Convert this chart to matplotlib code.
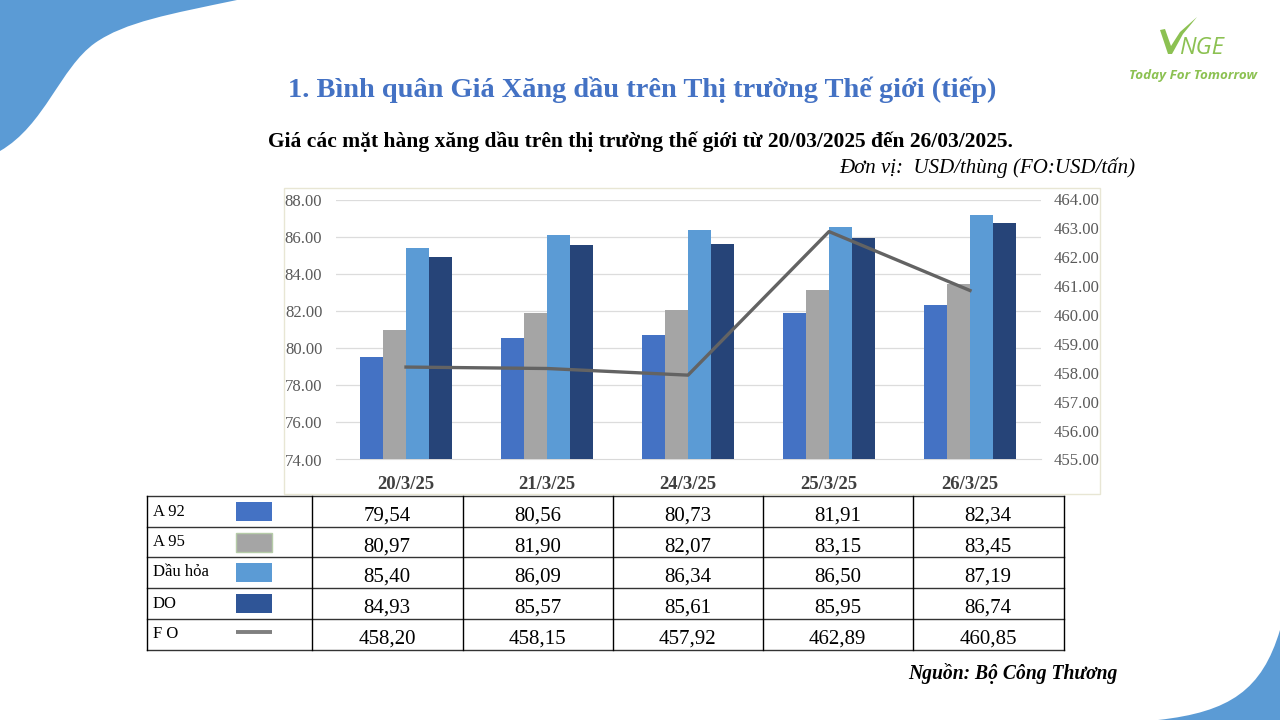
"""Weekly world fuel prices slide: bars, FO line and value table."""

import matplotlib

matplotlib.use("Agg")
import matplotlib.pyplot as plt
import numpy as np
from matplotlib.patches import PathPatch, Rectangle
from matplotlib.path import Path

dates = ["20/3/25", "21/3/25", "24/3/25", "25/3/25", "26/3/25"]
a92 = [79.54, 80.56, 80.73, 81.91, 82.34]
a95 = [80.97, 81.90, 82.07, 83.15, 83.45]
kerosene = [85.40, 86.09, 86.34, 86.50, 87.19]
do = [84.93, 85.57, 85.61, 85.95, 86.74]
fo = [458.20, 458.15, 457.92, 462.89, 460.85]

left_ticks = [74, 76, 78, 80, 82, 84, 86, 88]
right_ticks = [455, 456, 457, 458, 459, 460, 461, 462, 463, 464]
series_names = ["A 92", "A 95", "Dầu hỏa", "DO", "F O"]

BLUE = "#4472C4"
GREY = "#A5A5A5"
LIGHT = "#5B9BD5"
NAVY = "#264478"
LINE = "#636363"
DECOR = "#5B9BD5"
LOGO = "#8CC152"
W, H = 1280, 720

plt.rcParams["font.family"] = ["Liberation Serif", "DejaVu Serif"]

fig = plt.figure(figsize=(W / 100, H / 100), dpi=100, facecolor="white")

# full-slide axes in pixel coordinates for decoration and the table
bg = fig.add_axes([0, 0, 1, 1])
bg.set_xlim(0, W)
bg.set_ylim(H, 0)
bg.axis("off")

top_left = [(0, 0), (237, 0),
            (170, 14), (125, 22), (95, 43),
            (60, 68), (45, 125), (0, 151),
            (0, 0)]
top_codes = [Path.MOVETO, Path.LINETO,
             Path.CURVE4, Path.CURVE4, Path.CURVE4,
             Path.CURVE4, Path.CURVE4, Path.CURVE4,
             Path.CLOSEPOLY]
bg.add_patch(PathPatch(Path(top_left, top_codes), fc=DECOR, ec="none"))
bottom_right = [(1280, 720), (1158, 720),
                (1230, 712), (1262, 690), (1280, 630),
                (1280, 720)]
bottom_codes = [Path.MOVETO, Path.LINETO,
                Path.CURVE4, Path.CURVE4, Path.CURVE4,
                Path.CLOSEPOLY]
bg.add_patch(PathPatch(Path(bottom_right, bottom_codes), fc=DECOR, ec="none"))

# logo
bg.add_patch(plt.Polygon([(1160, 30), (1165, 29), (1171, 46), (1180, 32), (1197, 17),
                          (1183, 34), (1172, 54), (1168, 54)], fc=LOGO, ec="none"))
bg.text(1179, 54, "NGE", fontsize=17, style="italic", color=LOGO, family="Open Sans",
        va="baseline", ha="left")
bg.text(1193, 75, "Today For Tomorrow", fontsize=9.6, style="italic", weight="bold",
        color=LOGO, family="Open Sans", ha="center", va="center")

# headings
bg.text(642, 90, "1. Bình quân Giá Xăng dầu trên Thị trường Thế giới (tiếp)", fontsize=20.4,
        weight="bold", color=BLUE, ha="center", va="center")
bg.text(640, 141.5, "Giá các mặt hàng xăng dầu trên thị trường thế giới từ 20/03/2025 đến 26/03/2025.",
        fontsize=15.45, weight="bold", color="black", ha="center", va="center")
bg.text(1135, 168, "Đơn vị:  USD/thùng (FO:USD/tấn)", fontsize=15, style="italic",
        color="black", ha="right", va="center")
bg.text(1118, 674, "Nguồn: Bộ Công Thương", fontsize=14.15, style="italic", weight="bold",
        color="black", ha="right", va="center")

# chart frame
bg.add_patch(Rectangle((284, 188), 816, 306, fc="white", ec="#E8E6D4", lw=1))

# chart
ax = fig.add_axes([335.5 / W, 1 - 459.5 / H, 705 / W, 260 / H])
ax.patch.set_alpha(0)
x = np.arange(len(dates))
width = 0.163
for i, (vals, col) in enumerate(zip([a92, a95, kerosene, do], [BLUE, GREY, LIGHT, NAVY])):
    ax.bar(x + (i - 1.5) * width, vals, width, color=col, zorder=3)
ax.set_xlim(-0.5, len(dates) - 0.5)
ax.set_ylim(left_ticks[0], left_ticks[-1])
ax.set_yticks(left_ticks)
ax.set_yticklabels([f"{t:.2f}" for t in left_ticks])
ax.set_xticks(x)
ax.set_xticklabels(dates, fontsize=13.5, weight="bold", color="#404040")
ax.grid(axis="y", color="#DCDCDC", lw=0.9, zorder=0)
ax.tick_params(axis="y", length=0, labelsize=12, labelcolor="#595959", pad=9.5)
ax.tick_params(axis="x", length=0, pad=12)
for side in ["top", "left", "right"]:
    ax.spines[side].set_visible(False)
ax.spines["bottom"].set_color("#D9D9D9")

ax2 = ax.twinx()
ax2.plot(x, fo, color=LINE, lw=2.4, zorder=5)
ax2.set_ylim(right_ticks[0], right_ticks[-1])
ax2.set_yticks(right_ticks)
ax2.set_yticklabels([f"{t:.2f}" for t in right_ticks])
ax2.tick_params(axis="y", length=0, labelsize=12, labelcolor="#595959", pad=9.5)
for side in ["top", "left", "right", "bottom"]:
    ax2.spines[side].set_visible(False)

# value table under the chart
col_edges = [146.5, 311.5, 462.5, 612.5, 762.5, 912.5, 1063.5]
row_edges = [495.5, 526.5, 556.5, 587.5, 618.5, 649.5]
for ye in row_edges:
    bg.plot([col_edges[0], col_edges[-1]], [ye, ye], color="#333333", lw=1.0, zorder=6)
for xe in col_edges:
    bg.plot([xe, xe], [row_edges[0], row_edges[-1]], color="black", lw=1.0, zorder=6)

swatches = [BLUE, GREY, LIGHT, "#2F5597"]
for r, (name, vals) in enumerate(zip(series_names, [a92, a95, kerosene, do, fo])):
    top = row_edges[r]
    bg.text(153, top + 16, name, fontsize=12, color="black", ha="left", va="center")
    if r < 4:
        edge = "#B5CBA8" if r == 1 else "none"
        bg.add_patch(Rectangle((236, top + 6), 36, 19, fc=swatches[r], ec=edge, lw=1))
    else:
        bg.plot([236, 272], [top + 13, top + 13], color="#7F7F7F", lw=2.8, solid_capstyle="butt")
    for c, v in enumerate(vals):
        cx = (col_edges[c + 1] + col_edges[c + 2]) / 2
        bg.text(cx, top + 21, f"{v:.2f}".replace(".", ","), fontsize=15, color="black",
                ha="center", va="center")

fig.savefig("out.png", dpi=100, facecolor="white")
plt.close(fig)
